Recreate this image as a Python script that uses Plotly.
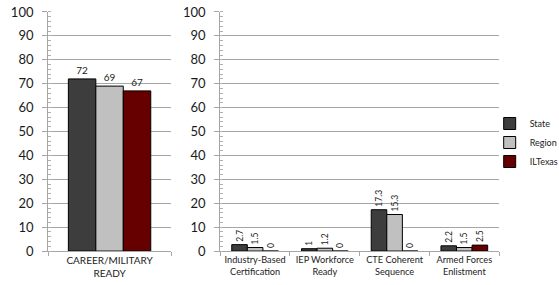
import plotly.graph_objects as go

left_categories = ["CAREER/MILITARY<br>READY"]
left_state = [72]
left_region = [69]
left_iltexas = [67]

right_categories = ["Industry-Based<br>Certification", "IEP Workforce<br>Ready",
                    "CTE Coherent<br>Sequence", "Armed Forces<br>Enlistment"]
right_state = [2.7, 1, 17.3, 2.2]
right_region = [1.5, 1.2, 15.3, 1.5]
right_iltexas = [0, 0, 0, 2.5]

series_names = ["State", "Region", "ILTexas"]
colors = ["#3d3d3d", "#c0c0c0", "#660000"]
y_ticks = [0, 10, 20, 30, 40, 50, 60, 70, 80, 90, 100]

FONT = "Lato, 'Open Sans', sans-serif"

fig = go.Figure()

for name, vals, col in zip(series_names, [left_state, left_region, left_iltexas], colors):
    fig.add_trace(go.Bar(
        x=left_categories, y=vals, name=name, marker=dict(color=col, line=dict(color="#000000", width=1)),
        text=[str(v) for v in vals], textposition="outside", textangle=0, constraintext="none",
        textfont=dict(size=10, color="#222222", family=FONT),
        xaxis="x", yaxis="y", legendgroup=name, showlegend=False, cliponaxis=False,
    ))

for name, vals, col in zip(series_names, [right_state, right_region, right_iltexas], colors):
    fig.add_trace(go.Bar(
        x=right_categories, y=vals, name=name, marker=dict(color=col, line=dict(color="#000000", width=1)),
        text=[str(v) for v in vals], textposition="outside", textangle=-90, constraintext="none",
        textfont=dict(size=8.5, color="#222222", family=FONT),
        xaxis="x2", yaxis="y2", legendgroup=name, showlegend=True, cliponaxis=False,
    ))

yaxis_common = dict(
    range=[0, 100], tickvals=y_ticks, showgrid=True, gridcolor="#a6a6a6", gridwidth=1,
    showline=True, linecolor="#a6a6a6", linewidth=1, ticks="outside", ticklen=5, tickcolor="#a6a6a6",
    tickfont=dict(size=13, color="#1a1a1a", family=FONT), zeroline=False, fixedrange=True,
    ticklabelstandoff=6, automargin=False,
    minor=dict(dtick=2, ticks="inside", ticklen=3, tickcolor="#b0b0b0", showgrid=False),
)
xaxis_common = dict(
    showline=True, linecolor="#a6a6a6", linewidth=1, ticks="outside", ticklen=4, tickcolor="#a6a6a6",
    tickson="boundaries", showgrid=False, fixedrange=True, automargin=False, tickangle=0,
)

fig.update_layout(
    width=559, height=285, margin=dict(l=0, r=0, t=0, b=0, autoexpand=False),
    paper_bgcolor="white", plot_bgcolor="white",
    barmode="group", bargap=0.33, bargroupgap=0,
    font=dict(family=FONT, color="#222222"),
    xaxis=dict(domain=[0.086, 0.306], anchor="y",
               tickfont=dict(size=10, color="#222222", family=FONT), **xaxis_common),
    yaxis=dict(domain=[0.119, 0.958], anchor="x", **yaxis_common),
    xaxis2=dict(domain=[0.394, 0.893], anchor="y2",
                tickfont=dict(size=9.2, color="#222222", family=FONT), **xaxis_common),
    yaxis2=dict(domain=[0.119, 0.958], anchor="x2", **yaxis_common),
    legend=dict(x=0.876, y=0.5, xanchor="left", yanchor="middle",
                font=dict(size=9, color="#222222", family=FONT),
                itemwidth=30, tracegroupgap=0, bgcolor="rgba(0,0,0,0)"),
)

fig.write_html("out.html", config={"displayModeBar": False},
               post_script="document.body.style.margin='0';document.body.style.overflow='hidden';")
